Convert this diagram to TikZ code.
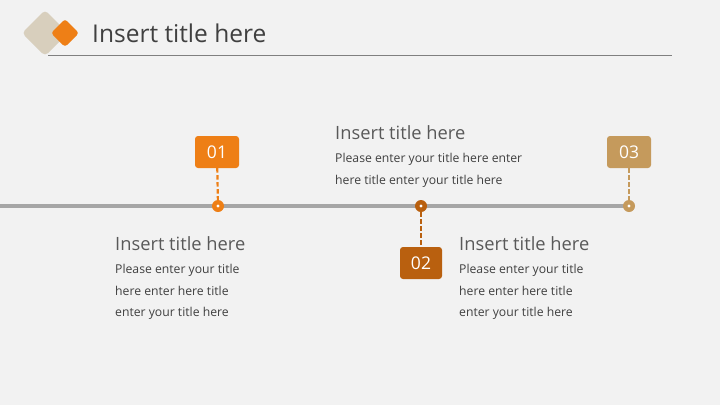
\documentclass[tikz,border=0pt]{standalone}
\usepackage{fontspec}
\setmainfont{Open Sans}
\usetikzlibrary{calc}
\definecolor{BackClr}{HTML}{F2F2F2}
\definecolor{LineClr}{HTML}{A6A6A6}
\definecolor{OneClr}{HTML}{EE7F16}
\definecolor{TwoClr}{HTML}{B9600F}
\definecolor{ThreeClr}{HTML}{C59A5C}
\definecolor{BeigeClr}{HTML}{D8CFBD}
\definecolor{HeadClr}{HTML}{595959}
\definecolor{TextClr}{HTML}{404040}

\begin{document}
\begin{tikzpicture}[x=1pt,y=-1pt,
  numbox/.style={rounded corners=3pt,minimum width=44pt,minimum height=32pt,
    inner sep=0pt,text=white,font=\fontsize{17.5}{17.5}\selectfont},
  dot/.style={circle,inner sep=0pt,minimum size=12pt},
  link/.style={dashed,line width=2.2pt,dash pattern=on 4.5pt off 2.5pt},
  head/.style={anchor=base west,inner sep=0pt,text=HeadClr,font=\fontsize{18.3}{18.3}\selectfont},
  body/.style={anchor=base west,inner sep=0pt,text=TextClr,font=\fontsize{12.2}{12.2}\selectfont}]
\fill[BackClr] (0,0) rectangle (720,405);
\useasboundingbox (0,0) rectangle (720,405);

% title
\fill[BeigeClr,rounded corners=4pt] (45,10) -- (68,33) -- (45,56) -- (22,33) -- cycle;
\fill[OneClr,rounded corners=3pt] (65,19) -- (79,33) -- (65,47) -- (51,33) -- cycle;
\node[anchor=base west,inner sep=0pt,text=TextClr,font=\fontsize{24.5}{24.5}\selectfont] (title) at (92,42) {Insert title here};
\draw[gray,line width=1pt] (48,55) -- (672,55);

% timeline
\coordinate (start) at (0,206);
\coordinate (end) at (629,206);
\draw[LineClr,line width=3.5pt] (start) -- (end);

\node[dot,fill=OneClr] (d1) at (218,206) {};
\node[dot,fill=TwoClr] (d2) at (421,206) {};
\node[dot,fill=ThreeClr] (d3) at (629,206) {};
\foreach \d in {d1,d2,d3}
  \fill[white] (\d) circle (1.6pt);

\node[numbox,fill=OneClr] (b1) at (217,152) {01};
\node[numbox,fill=TwoClr,minimum width=42pt] (b2) at (421,263) {02};
\node[numbox,fill=ThreeClr] (b3) at (629,152) {03};

\draw[link,OneClr] (b1) -- (d1);
\draw[link,TwoClr] (d2) -- (b2);
\draw[link,ThreeClr] (b3) -- (d3);

% texts
\node[head] (h1) at (115,250) {Insert title here};
\node[body] (t11) at (115,273) {Please enter your title};
\node[body] (t12) at (115,295) {here enter here title};
\node[body] (t13) at (115,316) {enter your title here};

\node[head] (h2) at (335,139) {Insert title here};
\node[body] (t21) at (335,162) {Please enter your title here enter};
\node[body] (t22) at (335,184) {here title enter your title here};

\node[head] (h3) at (459,250) {Insert title here};
\node[body] (t31) at (459,273) {Please enter your title};
\node[body] (t32) at (459,295) {here enter here title};
\node[body] (t33) at (459,316) {enter your title here};
\end{tikzpicture}
\end{document}
